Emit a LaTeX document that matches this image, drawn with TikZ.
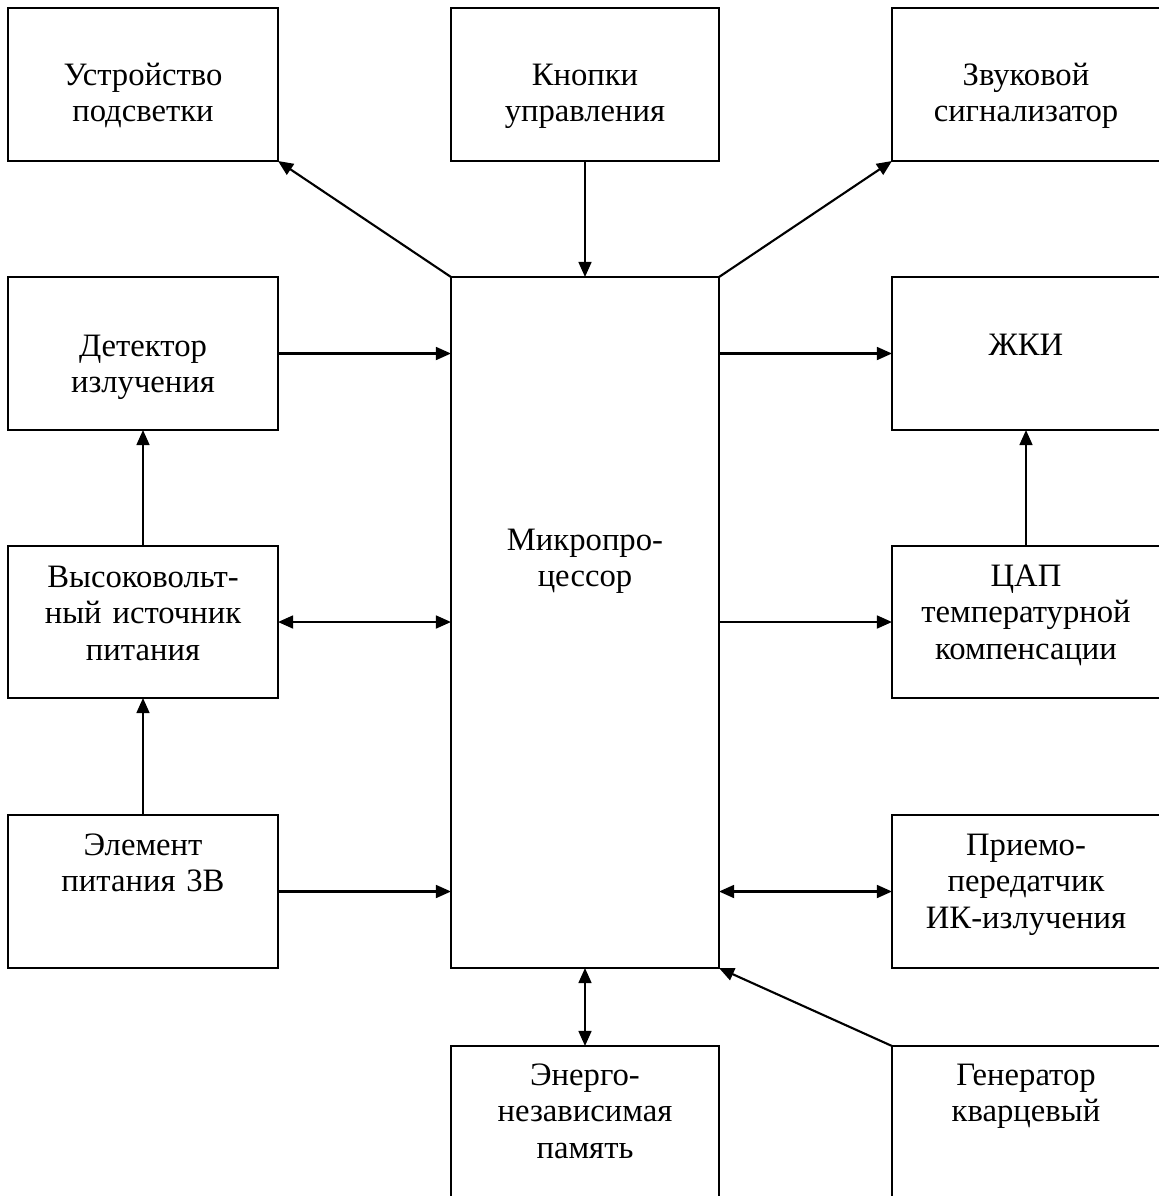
\documentclass[tikz,border=0pt]{standalone}
\usepackage{fontspec}
\setmainfont{Liberation Serif}
\usetikzlibrary{arrows.meta,positioning}

\begin{document}
\begin{tikzpicture}[x=0.45pt, y=-0.45pt,
    blk/.style n args={2}{draw, line width=0.7pt, inner sep=0pt, outer sep=0pt,
      minimum width=#1*0.45pt, minimum height=#2*0.45pt},
    txt/.style={text width=120pt, align=center, inner sep=0pt, anchor=base,
      font=\fontsize{14.7}{16.45}\selectfont},
    link/.style={line width=0.95pt, -{Triangle[length=6.8pt, width=5.8pt]}},
    dlink/.style={line width=0.95pt, {Triangle[length=6.8pt, width=5.8pt]}-{Triangle[length=6.8pt, width=5.8pt]}}]
  \useasboundingbox (0,0) rectangle (1159,1196);

  % blocks
  \node[blk={270}{153}] (ub) at (143,84.5) {};
  \node[blk={268}{153}] (kb) at (585,84.5) {};
  \node[blk={285}{153}] (zs) at (1034.5,84.5) {};
  \node[blk={270}{153}] (dt) at (143,353.5) {};
  \node[blk={268}{691}] (mp) at (585,622.5) {};
  \node[blk={285}{153}] (lcd) at (1034.5,353.5) {};
  \node[blk={270}{152}] (hv) at (143,622) {};
  \node[blk={285}{152}] (dac) at (1034.5,622) {};
  \node[blk={270}{153}] (bat) at (143,891.5) {};
  \node[blk={285}{153}] (ir) at (1034.5,891.5) {};
  \node[blk={268}{164}] (mem) at (585,1128) {};
  \node[blk={285}{164}] (osc) at (1034.5,1128) {};

  % labels
  \node[txt] (ub-t) at (143,85) {Устройство\\подсветки};
  \node[txt] (kb-t) at (585,85) {Кнопки\\управления};
  \node[txt] (zs-t) at (1026,85) {Звуковой\\сигнализатор};
  \node[txt] (dt-t) at (143,356) {Детектор\\излучения};
  \node[txt] (lcd-t) at (1026,355) {ЖКИ};
  \node[txt] (mp-t) at (585,550) {Микропро-\\цессор};
  \node[txt] (hv-t) at (143,587) {Высоковольт-\\ный источник\\питания};
  \node[txt] (dac-t) at (1026,586) {ЦАП\\температурной\\компенсации};
  \node[txt] (bat-t) at (143,855) {Элемент\\питания 3В};
  \node[txt] (ir-t) at (1026,855) {Приемо-\\передатчик\\ИК-излучения};
  \node[txt] (mem-t) at (585,1085) {Энерго-\\независимая\\память};
  \node[txt] (osc-t) at (1026,1085) {Генератор\\кварцевый};

  % connections
  \draw[link] (mp.north west) -- (ub.south east);
  \draw[link] (kb.south) -- (mp.north);
  \draw[link] (mp.north east) -- (zs.south west);
  \draw[link] (dt.east) -- (dt.east -| mp.west);
  \draw[link] (lcd.west -| mp.east) -- (lcd.west);
  \draw[link] (lcd-t |- dac.north) -- (lcd-t |- lcd.south);
  \draw[link] (hv.north) -- (dt.south);
  \draw[link] (bat.north) -- (hv.south);
  \draw[dlink] (hv.east) -- (hv.east -| mp.west);
  \draw[link] (dac.west -| mp.east) -- (dac.west);
  \draw[link] (bat.east) -- (bat.east -| mp.west);
  \draw[dlink] (ir.west -| mp.east) -- (ir.west);
  \draw[dlink] (mp.south) -- (mem.north);
  \draw[link] (osc.north west) -- (mp.south east);
\end{tikzpicture}
\end{document}
